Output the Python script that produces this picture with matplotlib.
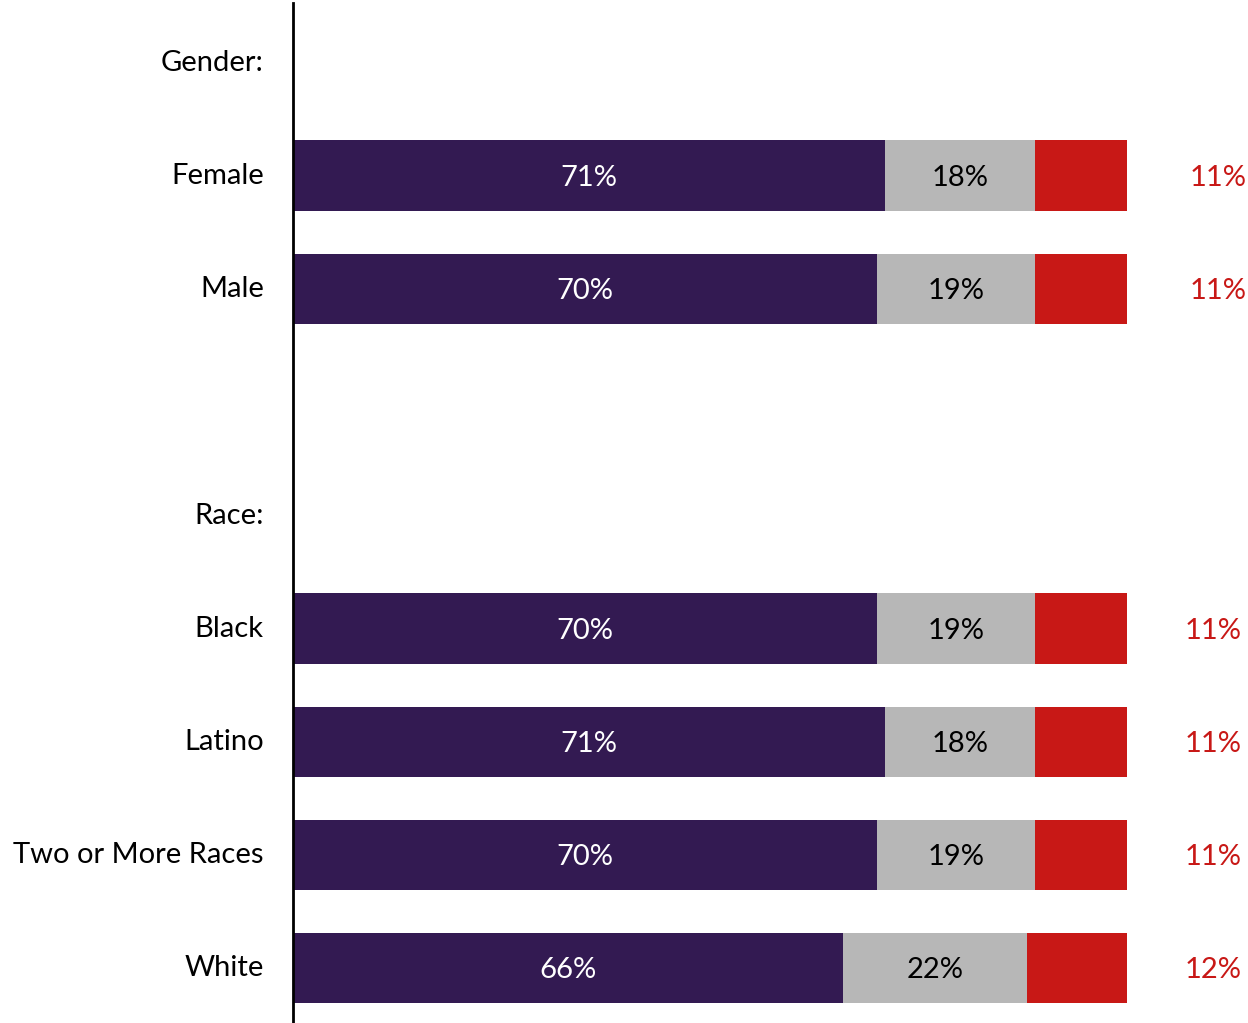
import matplotlib
matplotlib.use("Agg")
import matplotlib.pyplot as plt
import numpy as np

# Row labels, top to bottom (headers and a spacer row carry no bars)
row_labels = ["Gender:", "Female", "Male", "", "Race:",
              "Black", "Latino", "Two or More Races", "White"]
bar_rows = ["Female", "Male", "Black", "Latino", "Two or More Races", "White"]

pct_first = [71, 70, 70, 71, 70, 66]
pct_second = [18, 19, 19, 18, 19, 22]
pct_third = [11, 11, 11, 11, 11, 12]

c_first = "#331A52"
c_second = "#B7B7B7"
c_third = "#C81816"

plt.rcParams["font.family"] = ["Lato", "DejaVu Sans"]

fig = plt.figure(figsize=(12.48, 10.23), dpi=100)
ax = fig.add_axes([293 / 1248, 0.5 / 1023, 834 / 1248, 1019 / 1023])

y = np.array([row_labels.index(r) for r in bar_rows], dtype=float)
first = np.array(pct_first) / 100
second = np.array(pct_second) / 100
third = np.array(pct_third) / 100

h = 0.62
ax.barh(y + 0.02, first, height=h, color=c_first, linewidth=0)
ax.barh(y + 0.02, second, left=first, height=h, color=c_second, linewidth=0)
ax.barh(y + 0.02, third, left=first + second, height=h, color=c_third, linewidth=0)

fs = 21
dy = 0.04
for yi, a, b, c, pa, pb, pc in zip(y, first, second, third,
                                   pct_first, pct_second, pct_third):
    ax.text(a / 2, yi + dy, f"{pa}%", color="white", fontsize=fs,
            ha="center", va="center")
    ax.text(a + b / 2, yi + dy, f"{pb}%", color="black", fontsize=fs,
            ha="center", va="center")
    xr = 1.109 if yi < 4 else 1.103
    ax.text(xr, yi + dy, f"{pc}%", color=c_third, fontsize=fs,
            ha="center", va="center", clip_on=False)

ax.set_xlim(0, 1)
ax.set_ylim(len(row_labels) - 0.5, -0.5)
ax.set_yticks(range(len(row_labels)))
ax.set_yticklabels(row_labels, fontsize=fs)
ax.tick_params(axis="y", length=0, pad=21)
ax.set_xticks([])

for s in ["top", "right", "bottom"]:
    ax.spines[s].set_visible(False)
ax.spines["left"].set_linewidth(2)
ax.spines["left"].set_color("black")

fig.savefig("out.png", dpi=100)
